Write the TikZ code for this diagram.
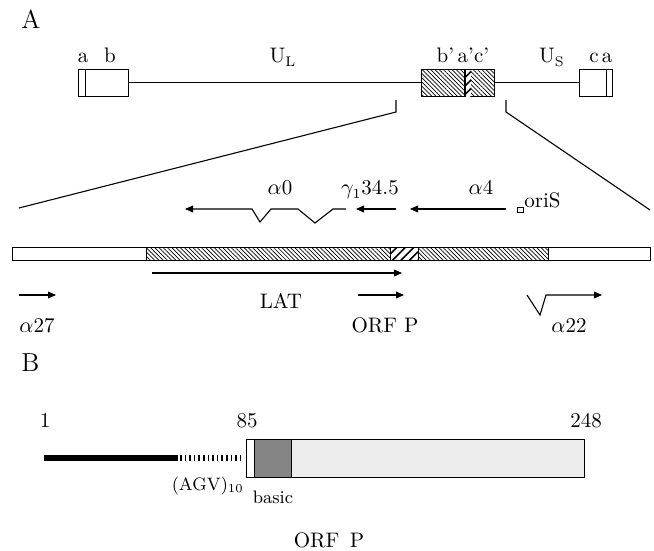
\documentclass[tikz,border=0pt]{standalone}
\usepackage{tikz}
\usetikzlibrary{arrows.meta,patterns.meta,positioning}
\definecolor{basicgray}{gray}{0.52}
\definecolor{stipplegray}{gray}{0.93}
\tikzset{
  genome/.style={draw,line width=0.5pt},
  finehatch/.style={pattern={Lines[angle=-45,distance=1.5pt,line width=0.35pt]}},
  widehatch/.style={pattern={Lines[angle=45,distance=3pt,line width=0.8pt]}},
  transcript/.style={line width=0.55pt,-{Triangle[length=4pt,width=3.4pt]}},
  lbl/.style={font=\fontsize{10.5}{12}\selectfont,inner sep=0pt,anchor=base},
  panel/.style={font=\fontsize{13}{15}\selectfont,inner sep=0pt,anchor=base west},
  small/.style={font=\fontsize{9}{10}\selectfont,inner sep=0pt,anchor=base},
}
\newcommand{\mapbox}[3]{%
  \draw[genome] (#1,70) rectangle (#2,97);%
  \draw[line width=0.5pt] (#3,70) -- (#3,97);%
}

\begin{document}
\begin{tikzpicture}[x=0.5pt,y=-0.5pt]
  \useasboundingbox (0,0) rectangle (654,551);
  \node[panel] (panelA) at (21,29) {A};
  \mapbox{78}{128}{85}
  \mapbox{579}{612}{606}
  \draw[line width=0.5pt] (128,83) -- (421,83);
  \draw[line width=0.5pt] (494,83) -- (579,83);
  \draw[genome,finehatch] (421,70) rectangle (494,97);
  \fill[white] (465,70) rectangle (471,97);
  \path[widehatch] (465,70) rectangle (471,97);
  \draw[line width=0.8pt] (465,70) -- (465,97);
  \node[lbl] (la) at (83,63) {a};
  \node[lbl] (lb) at (110,63) {b};
  \node[lbl] (lUL) at (283,63) {U$_{\mathrm{L}}$};
  \node[lbl] (lrep) at (463,63) {b'\,a'c'};
  \node[lbl] (lUS) at (552,63) {U$_{\mathrm{S}}$};
  \node[lbl] (lc) at (594,63) {c};
  \node[lbl] (la2) at (607,63) {a};
  \coordinate (tickLtop) at (396,100);
  \coordinate (tickL) at (396,112);
  \coordinate (barL) at (19,208);
  \coordinate (tickRtop) at (506,100);
  \coordinate (tickR) at (506,112);
  \coordinate (barR) at (650,210);
  \draw[line width=0.55pt] (tickLtop) -- (tickL) -- (barL);
  \draw[line width=0.55pt] (tickRtop) -- (tickR) -- (barR);
  \node[lbl] (lalpha0) at (280,195) {$\alpha$0};
  \node[lbl] (lgamma) at (370,195) {$\gamma_1$34.5};
  \node[lbl] (lalpha4) at (481,195) {$\alpha$4};
  \draw[line width=0.4pt] (517,207) rectangle (523,212);
  \node[lbl,anchor=base west] (loriS) at (524,207) {oriS};
  \draw[transcript] (346,209) -- (333,209) -- (315,223) -- (298,209) -- (271,209) -- (260,222) -- (252,209) -- (185,209);
  \draw[transcript] (396,209) -- (356,209);
  \draw[transcript] (506,209) -- (410,209);
  \draw[genome] (12,248) rectangle (146,260);
  \draw[genome,finehatch] (146,248) rectangle (390,260);
  \draw[genome,widehatch] (390,248) rectangle (418,260);
  \draw[genome,finehatch] (418,248) rectangle (548,260);
  \draw[genome] (548,248) rectangle (650,260);
  \draw[transcript] (152,273) -- (402,273);
  \draw[transcript] (19,295) -- (56,295);
  \draw[transcript] (358,295) -- (404,295);
  \draw[transcript] (527,295) -- (540,315) -- (546,295) -- (602,295);
  \node[lbl] (lLAT) at (281,308) {LAT};
  \node[lbl] (lalpha27) at (37,332) {$\alpha$27};
  \node[lbl] (lorfp) at (385,332) {ORF P};
  \node[lbl] (lalpha22) at (569,332) {$\alpha$22};
  \node[panel] (panelB) at (21,371) {B};
  \node[lbl] (pos1) at (45,427) {1};
  \node[lbl] (pos85) at (247,427) {85};
  \node[lbl] (pos248) at (586,427) {248};
  \draw[line width=3pt] (44,458) -- (178,458);
  \draw[line width=3pt,dash pattern=on 0.8pt off 1.5pt] (180,458) -- (244,458);
  \fill[stipplegray] (291,439) rectangle (584,477);
  \draw[genome,fill=basicgray] (254,439) rectangle (291,477);
  \draw[genome] (246,439) rectangle (584,477);
  \node[small,anchor=base east] (lagv) at (244,490) {(AGV)$_{10}$};
  \node[small] (lbasic) at (273,503) {basic};
  \node[lbl] (ltitle) at (329,547) {ORF\enspace P};
\end{tikzpicture}
\end{document}
